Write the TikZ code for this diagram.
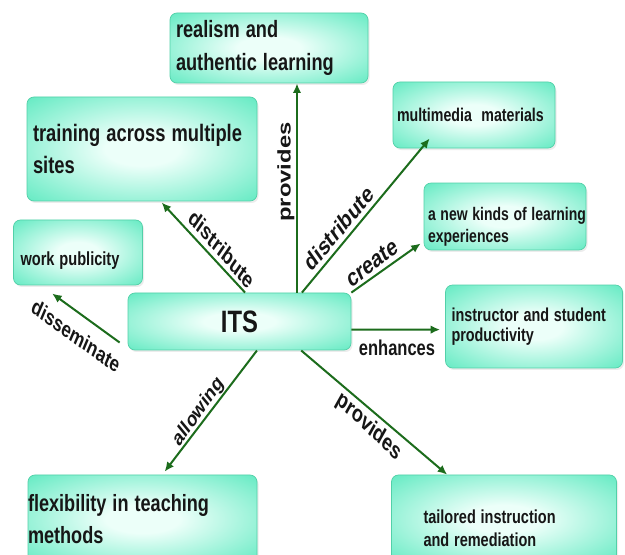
\documentclass[tikz,border=0pt]{standalone}
\usepackage{fontspec}
\setmainfont{Liberation Sans}
\usetikzlibrary{calc,shadows,arrows.meta}
\definecolor{boxin}{RGB}{236,255,249}
\definecolor{boxout}{RGB}{98,234,194}
\definecolor{boxedge}{RGB}{82,208,168}
\definecolor{arrgreen}{RGB}{28,108,28}
\definecolor{txt}{RGB}{22,22,22}
\pgfdeclareradialshading{boxshade}{\pgfpoint{0bp}{0bp}}{color(0bp)=(boxin); color(8bp)=(boxin); color(36bp)=(boxout); color(50bp)=(boxout)}
\newcommand{\fs}[2]{\fontsize{#1}{#2}\selectfont\bfseries}
\begin{document}
\begin{tikzpicture}[x=1pt, y={(0pt,-0.769231pt)}, yscale=1.3,
  bx/.style={transform shape, shading=boxshade, draw=boxedge, line width=0.7pt,
    rounded corners=7pt, inner ysep=0pt, align=left, text=txt,
    drop shadow={opacity=0.15, shadow xshift=1.5pt, shadow yshift=-2pt}},
  lab/.style={transform shape, inner sep=0pt, text=txt},
  arr/.style={draw=arrgreen, line width=2pt, -{Latex[length=9.5pt,width=8.5pt]}}]
\fill[white] (0,0) rectangle (625,555);
\useasboundingbox (0,0) rectangle (625,555);

% boxes
\node[bx, minimum width=198pt, minimum height=53.85pt, inner xsep=6pt, text width=186pt,
  font=\fs{18.2}{25.4}] (rea) at (269,48) {realism and\\authentic learning};
\node[bx, minimum width=230pt, minimum height=80pt, inner xsep=6pt, text width=218pt,
  font=\fs{18.35}{24.6}] (tr) at (142,149) {training across multiple\\sites};
\node[bx, minimum width=162pt, minimum height=50.8pt, inner xsep=4pt, text width=154pt,
  font=\fs{14.2}{17}] (mm) at (474,115) {multimedia\ \ materials};
\node[bx, minimum width=162pt, minimum height=51.5pt, inner xsep=4pt, text width=154pt,
  font=\fs{14}{16.9}] (nk) at (505,216.5) {\rule{0pt}{25.4pt}\mbox{a new kinds of learning}\\experiences};
\node[bx, minimum width=129pt, minimum height=50pt, inner xsep=7pt, text width=115pt,
  font=\fs{14.6}{17}] (wp) at (78,252.5) {\rule{0pt}{22.3pt}work publicity};
\node[bx, minimum width=223pt, minimum height=43.85pt, align=center,
  font=\fs{23.8}{28}] (its) at (239.5,321.5) {ITS};
\node[bx, minimum width=177pt, minimum height=63.8pt, inner xsep=6pt, text width=165pt,
  font=\fs{14.4}{15.6}] (ins) at (534,326.5) {instructor and student\\productivity};
\node[bx, minimum width=225pt, minimum height=67.7pt, inner xsep=32pt, text width=161pt,
  font=\fs{14.5}{17.9}] (tl) at (504,519) {\rule{0pt}{24.4pt}tailored instruction\\and remediation};
\node[bx, minimum width=229pt, minimum height=67.7pt, inner xsep=0pt, text width=229pt,
  font=\fs{18.1}{24.6}] (fl) at (142.5,519) {flexibility in teaching\\methods};

% connectors
\draw[arr] ($(its.north west)!0.757!(its.north east)$) coordinate (p1) -- (p1 |- rea.south);
\draw[arr] ($(its.north west)!0.779!(its.north east)$) -- ($(mm.south west)+(37,-10)$);
\draw[arr] (its.north east) -- ($(nk.south west)+(-3,-7)$);
\draw[arr] ($(its.north west)!0.525!(its.north east)$) -- ($(tr.south west)+(135,1)$);
\draw[arr] ($(its.south west)+(-8,-8)$) -- ($(wp.south west)+(39,8)$);
\draw[arr] ($(its.east)+(0,8)$) coordinate (e1) -- ($(e1 -| ins.west)+(-5,0)$);
\draw[arr] ($(its.south west)!0.776!(its.south east)$) -- ($(tl.north west)+(56,0)$);
\draw[arr] ($(its.south west)!0.578!(its.south east)$) -- ($(fl.north west)+(137,-3)$);

% labels
\node[lab, font=\fs{18.3}{20}, rotate=90] (l1) at (286,172) {provides};
\node[lab, font=\fs{18.9}{20}, rotate=42.5] (l2) at (339,228) {distribute};
\node[lab, font=\fs{19}{20}, rotate=31] (l3) at (372,263) {create};
\node[lab, font=\fs{17.8}{20}, rotate=-41.5] (l4) at (222,249) {distribute};
\node[lab, font=\fs{16.5}{20}] (l5) at (397,348) {enhances};
\node[lab, font=\fs{18.2}{20}, rotate=-36] (l6) at (369,427) {provides};
\node[lab, font=\fs{16.5}{20}, rotate=47] (l7) at (199,412) {allowing};
\node[lab, font=\fs{17}{20}, rotate=-29] (l8) at (76,336) {disseminate};
\end{tikzpicture}
\end{document}
